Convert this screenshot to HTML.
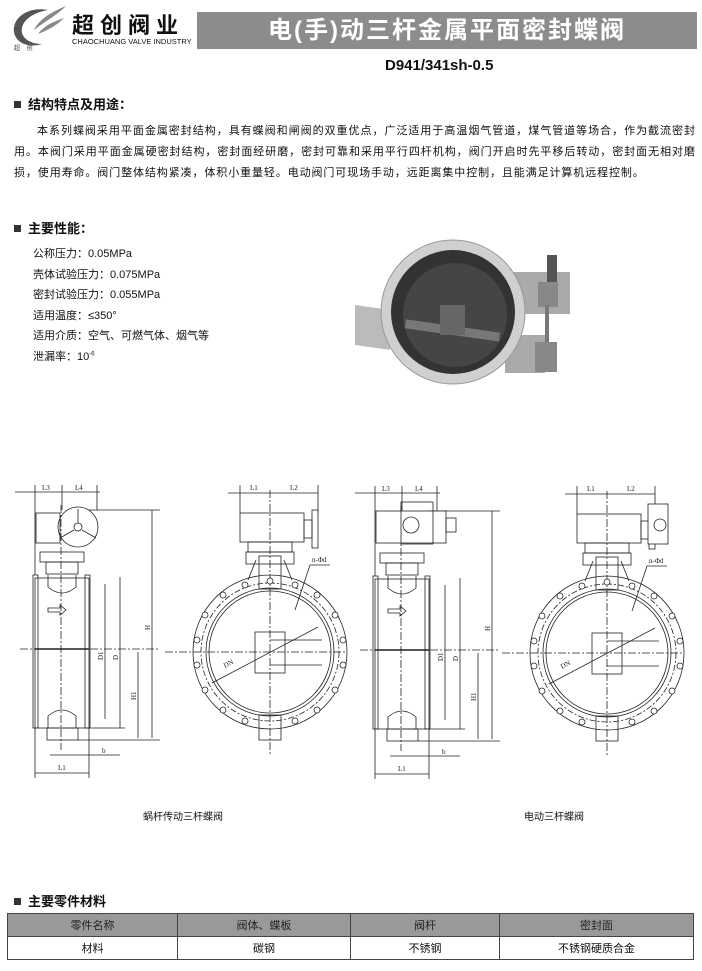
<!DOCTYPE html>
<html><head><meta charset="utf-8"><style>
body{margin:0;width:702px;height:971px;background:#fff;position:relative;overflow:hidden;font-family:"Liberation Sans","Noto Sans CJK SC",sans-serif;color:#111}
.a{position:absolute;white-space:nowrap}
.h{font-weight:bold;font-size:13px}
.sq{display:inline-block;width:7px;height:7px;background:#333;margin-right:7px;vertical-align:1px}
.pl{position:absolute;font-size:11px;white-space:nowrap;text-align:justify;text-align-last:justify;overflow:hidden}
.s{font-size:11px;left:33px}
table{position:absolute;left:7px;top:913px;width:687px;border-collapse:collapse;font-size:11px}
td{border:1px solid #444;text-align:center;height:20px}
tr.hd td{background:#999;color:#222}
</style></head><body>
<svg class="a" style="left:8px;top:4px" width="60" height="48"><path d="M40 6 C20 2 4 14 6 28 C8 40 22 44 34 40 C20 40 12 32 14 24 C16 14 28 8 40 6Z" fill="#555"/><path d="M58 2 C44 8 32 14 26 26 C36 18 48 12 58 2Z M56 14 C44 18 36 22 30 30 C40 26 48 22 56 14Z" fill="#888"/><text x="6" y="46" font-size="6" fill="#333">超&#160;&#160;&#160;&#160;创</text></svg>
<div class="a" style="left:72px;top:8px;font-size:22px;font-weight:bold;letter-spacing:6px">超创阀业</div>
<div class="a" style="left:72px;top:37px;font-size:7.5px">CHAOCHUANG VALVE INDUSTRY</div>
<div class="a" style="left:197px;top:12px;width:500px;height:37px;background:#8c8c8c;color:#fff;font-size:24px;font-weight:bold;text-align:center;line-height:37px;letter-spacing:2px">电(手)动三杆金属平面密封蝶阀</div>
<div class="a" style="left:385px;top:57px;font-size:15px;font-weight:bold">D941/341sh-0.5</div>
<div class="a h" style="left:14px;top:94px"><span class="sq"></span>结构特点及用途：</div>
<div class="pl" style="left:37px;top:122px;width:658px">本系列蝶阀采用平面金属密封结构，具有蝶阀和闸阀的双重优点，广泛适用于高温烟气管道，煤气管道等场合，作为截流密封</div>
<div class="pl" style="left:14px;top:143px;width:681px">用。本阀门采用平面金属硬密封结构，密封面经研磨，密封可靠和采用平行四杆机构，阀门开启时先平移后转动，密封面无相对磨</div>
<div class="a" style="left:14px;top:164px;font-size:11px;letter-spacing:.9px">损，使用寿命。阀门整体结构紧凑，体积小重量轻。电动阀门可现场手动，远距离集中控制，且能满足计算机远程控制。</div>
<div class="a h" style="left:14px;top:218px"><span class="sq"></span>主要性能：</div>
<div class="a s" style="top:245px">公称压力：0.05MPa</div>
<div class="a s" style="top:266px">壳体试验压力：0.075MPa</div>
<div class="a s" style="top:286px">密封试验压力：0.055MPa</div>
<div class="a s" style="top:307px">适用温度：≤350°</div>
<div class="a s" style="top:327px">适用介质：空气、可燃气体、烟气等</div>
<div class="a s" style="top:348px">泄漏率：10<sup style="font-size:6px">-6</sup></div>
<svg class="a" style="left:355px;top:230px" width="240" height="165">
<rect x="0" y="75" width="35" height="40" fill="#bbb" transform="skewY(8)"/>
<rect x="150" y="42" width="65" height="42" fill="#aaa"/>
<rect x="150" y="105" width="40" height="38" fill="#aaa"/>
<circle cx="98" cy="82" r="72" fill="#d0d0d0" stroke="#999"/>
<circle cx="98" cy="82" r="62" fill="#333"/>
<circle cx="100" cy="85" r="52" fill="#454545"/>
<rect x="50" y="96" width="95" height="9" fill="#777" transform="rotate(8 98 100)"/>
<rect x="85" y="75" width="25" height="30" fill="#666"/>
<rect x="192" y="25" width="10" height="35" fill="#555"/>
<rect x="183" y="52" width="20" height="25" fill="#888"/>
<rect x="190" y="75" width="4" height="40" fill="#777"/>
<rect x="180" y="112" width="22" height="30" fill="#888"/>
</svg>
<svg class="a" style="left:0;top:470px" width="702" height="330" fill="none" stroke="#222" stroke-width="0.8" font-family="Liberation Serif" font-size="7">
<g id="side">
<rect x="35" y="108" width="54" height="150"/><rect x="33" y="105" width="5" height="153"/><rect x="85" y="105" width="5" height="153"/>
<line x1="35" y1="179" x2="89" y2="179" stroke-width="1.5"/>
<path d="M48 105 v12 q14 12 28 0 v-12 M48 258 v-12 q14 -12 28 0 v12"/>
<rect x="47" y="258" width="31" height="12"/>
<rect x="40" y="82" width="44" height="10"/><rect x="46" y="92" width="32" height="12"/>
<path d="M48 138 h12 v-3 l6 5 -6 5 v-3 h-12z"/>
<line x1="61" y1="35" x2="61" y2="280" stroke-dasharray="8 2 2 2"/>
<line x1="20" y1="179" x2="160" y2="179" stroke-dasharray="8 2 2 2"/>
<line x1="152" y1="40" x2="152" y2="268"/><line x1="138" y1="182" x2="138" y2="268"/>
<line x1="120" y1="107" x2="120" y2="258"/><line x1="105" y1="114" x2="105" y2="249"/>
<line x1="89" y1="40" x2="160" y2="40"/><line x1="89" y1="258" x2="125" y2="258"/><line x1="78" y1="270" x2="160" y2="270"/>
<line x1="15" y1="22" x2="100" y2="22"/><line x1="35" y1="15" x2="35" y2="105"/><line x1="62" y1="15" x2="62" y2="40"/><line x1="97" y1="15" x2="97" y2="40"/>
<line x1="35" y1="303" x2="89" y2="303"/><line x1="35" y1="258" x2="35" y2="308"/><line x1="89" y1="258" x2="89" y2="308"/>
<line x1="50" y1="285" x2="120" y2="285"/>
<text x="42" y="20" fill="#222" stroke="none">L3</text><text x="75" y="20" fill="#222" stroke="none">L4</text>
<text x="58" y="300" fill="#222" stroke="none">L1</text><text x="102" y="283" fill="#222" stroke="none">b</text>
<text x="150" y="160" fill="#222" stroke="none" transform="rotate(-90 150 160)">H</text>
<text x="136" y="230" fill="#222" stroke="none" transform="rotate(-90 136 230)">H1</text>
<text x="118" y="190" fill="#222" stroke="none" transform="rotate(-90 118 190)">D</text>
<text x="103" y="190" fill="#222" stroke="none" transform="rotate(-90 103 190)">D1</text>
</g>
<rect x="36" y="43" width="24" height="30"/><circle cx="78" cy="57" r="20"/><circle cx="78" cy="57" r="4"/><path d="M78 53v-14M74 60l-14 8M82 60l14 8"/>
<g id="front">
<circle cx="270" cy="182" r="77"/><circle cx="270" cy="182" r="69" stroke-dasharray="6 2 2 2"/><circle cx="270" cy="182" r="64"/><circle cx="270" cy="182" r="61"/>
<rect x="259" y="86" width="22" height="33"/><rect x="259" y="245" width="22" height="25"/><rect x="255" y="162" width="30" height="41" fill="#fff"/>
<path d="M248 110 l8 -20 M292 110 l-8 -20"/><rect x="246" y="82" width="48" height="12"/><rect x="248" y="72" width="44" height="10"/>
<rect x="240" y="43" width="64" height="29"/><rect x="304" y="50" width="8" height="18"/><rect x="312" y="40" width="6" height="38"/>
<line x1="270" y1="20" x2="270" y2="285" stroke-dasharray="8 2 2 2"/><line x1="165" y1="182" x2="345" y2="182" stroke-dasharray="8 2 2 2"/>
<line x1="212" y1="213" x2="318" y2="157"/><line x1="270" y1="170" x2="322" y2="170"/><line x1="270" y1="195" x2="322" y2="195"/>
<line x1="295" y1="140" x2="310" y2="95"/><line x1="310" y1="95" x2="330" y2="95"/>
<line x1="228" y1="23" x2="318" y2="23"/><line x1="240" y1="15" x2="240" y2="43"/><line x1="318" y1="15" x2="318" y2="43"/>
<text x="250" y="20" fill="#222" stroke="none">L1</text><text x="290" y="20" fill="#222" stroke="none">L2</text>
<text x="312" y="92" fill="#222" stroke="none">n-Φd</text><text x="225" y="198" fill="#222" stroke="none" transform="rotate(-28 225 198)">DN</text>
</g>
<g fill="#fff">
<circle cx="270" cy="111" r="3"/><circle cx="245" cy="115" r="3"/><circle cx="295" cy="115" r="3"/><circle cx="223" cy="125" r="3"/><circle cx="317" cy="125" r="3"/><circle cx="205" cy="145" r="3"/><circle cx="335" cy="145" r="3"/><circle cx="197" cy="170" r="3"/><circle cx="343" cy="170" r="3"/><circle cx="197" cy="195" r="3"/><circle cx="343" cy="195" r="3"/><circle cx="205" cy="220" r="3"/><circle cx="335" cy="220" r="3"/><circle cx="223" cy="240" r="3"/><circle cx="317" cy="240" r="3"/><circle cx="245" cy="251" r="3"/><circle cx="295" cy="251" r="3"/>
</g>
<use href="#side" x="340" y="1"/>
<rect x="376" y="41" width="70" height="32" fill="#fff"/><rect x="401" y="32" width="32" height="42"/><circle cx="411" cy="55" r="8"/><rect x="446" y="48" width="10" height="14"/>
<use href="#front" x="337" y="1"/>
<g fill="#fff" transform="translate(337 1)">
<circle cx="270" cy="111" r="3"/><circle cx="245" cy="115" r="3"/><circle cx="295" cy="115" r="3"/><circle cx="223" cy="125" r="3"/><circle cx="317" cy="125" r="3"/><circle cx="205" cy="145" r="3"/><circle cx="335" cy="145" r="3"/><circle cx="197" cy="170" r="3"/><circle cx="343" cy="170" r="3"/><circle cx="197" cy="195" r="3"/><circle cx="343" cy="195" r="3"/><circle cx="205" cy="220" r="3"/><circle cx="335" cy="220" r="3"/><circle cx="223" cy="240" r="3"/><circle cx="317" cy="240" r="3"/><circle cx="245" cy="251" r="3"/><circle cx="295" cy="251" r="3"/>
</g>
<rect x="648" y="34" width="20" height="40" fill="#fff"/><circle cx="660" cy="55" r="6"/>
</svg>
<div class="a" style="left:143px;top:808px;font-size:10px">蜗杆传动三杆蝶阀</div>
<div class="a" style="left:524px;top:808px;font-size:10px">电动三杆蝶阀</div>
<div class="a h" style="left:14px;top:891px"><span class="sq"></span>主要零件材料</div>
<table><tr class="hd"><td style="width:167px">零件名称</td><td style="width:170px">阀体、蝶板</td><td style="width:146px">阀杆</td><td>密封面</td></tr>
<tr><td>材料</td><td>碳钢</td><td>不锈钢</td><td>不锈钢硬质合金</td></tr></table>
</body></html>
